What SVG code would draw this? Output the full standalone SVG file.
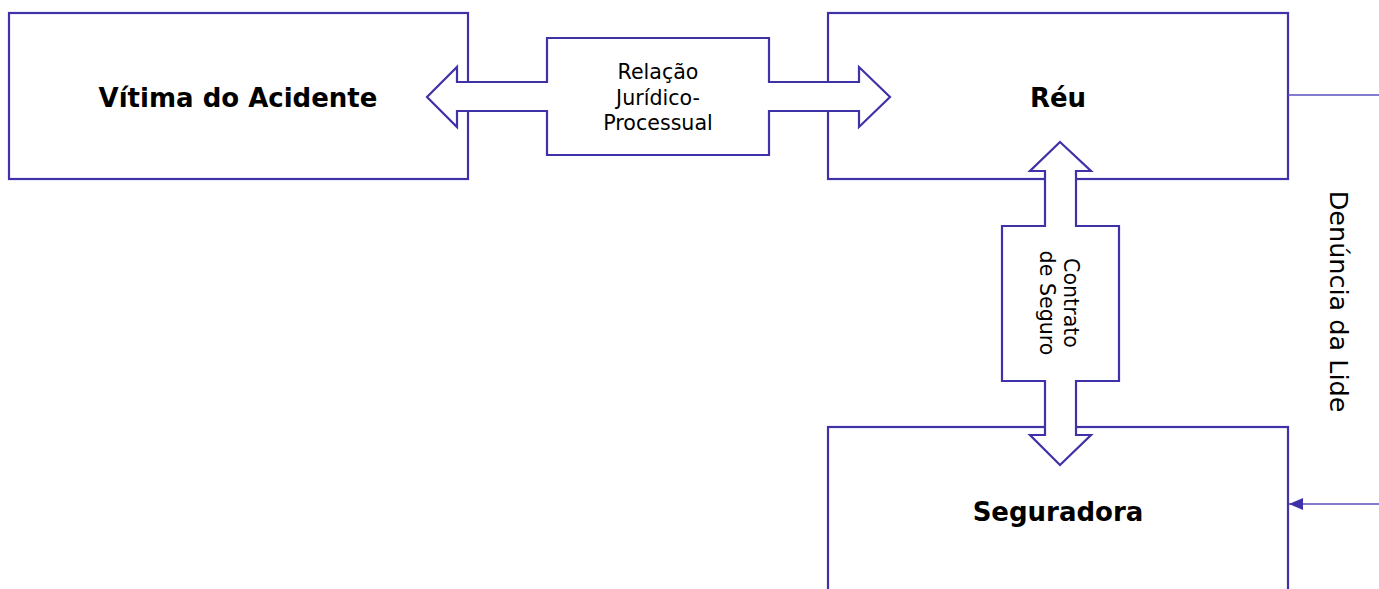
<svg xmlns="http://www.w3.org/2000/svg" width="1379" height="589" viewBox="0 0 1379 589">
<style>
.box{fill:#fff;stroke:#3f31a8;stroke-width:2.2}
.arr{fill:#fff;stroke:#3f31a8;stroke-width:2.2;stroke-linejoin:miter}
.lbl{font-family:"DejaVu Sans",Verdana,sans-serif;font-weight:bold;font-size:26px;fill:#000;text-anchor:middle}
.cl{font-family:"DejaVu Sans",Verdana,sans-serif;font-size:20.6px;fill:#000;text-anchor:middle}
.edge{fill:none;stroke:#5a4fc0;stroke-width:1.4}
</style>
<defs>
<marker id="ah" markerWidth="14" markerHeight="12" refX="14" refY="6" orient="auto" markerUnits="userSpaceOnUse">
<path d="M0,0 L14,6 L0,12 Z" fill="#3f31a8"/>
</marker>
</defs>
<g id="vitima">
<rect class="box" x="9" y="13" width="459" height="166"/>
<text class="lbl" x="238" y="107">Vítima do Acidente</text>
</g>
<g id="reu">
<rect class="box" x="828" y="13" width="460" height="166"/>
<text class="lbl" x="1058" y="107">Réu</text>
</g>
<g id="seguradora">
<rect class="box" x="828" y="427" width="460" height="180"/>
<text class="lbl" x="1058" y="521">Seguradora</text>
</g>
<g id="connectors">
<g id="relacao">
<path class="arr" d="M427,97 L457,67 L457,82 L547,82 L547,38 L769,38 L769,82 L859,82 L859,67 L890,97 L859,127 L859,111 L769,111 L769,155 L547,155 L547,111 L457,111 L457,127 Z"/>
<text class="cl" x="658" y="79">Relação</text>
<text class="cl" x="658" y="105">Jurídico-</text>
<text class="cl" x="658" y="130">Processual</text>
</g>
<g id="contrato">
<path class="arr" d="M1060,142 L1091,171 L1076,171 L1076,226 L1119,226 L1119,381 L1076,381 L1076,435 L1091,435 L1060,465 L1030,435 L1045,435 L1045,381 L1002,381 L1002,226 L1045,226 L1045,171 L1030,171 Z"/>
<g transform="translate(1064,303) rotate(90)">
<text class="cl" x="0" y="0">Contrato</text>
<text class="cl" x="0" y="24">de Seguro</text>
</g>
</g>
<g id="denuncia">
<path class="edge" d="M1288,95 L1379,95"/>
<path class="edge" d="M1379,504 L1289,504" marker-end="url(#ah)"/>
<text class="cl" style="font-size:25.5px" transform="translate(1330,301.5) rotate(90)">Denúncia da Lide</text>
</g>
</g>
</svg>
